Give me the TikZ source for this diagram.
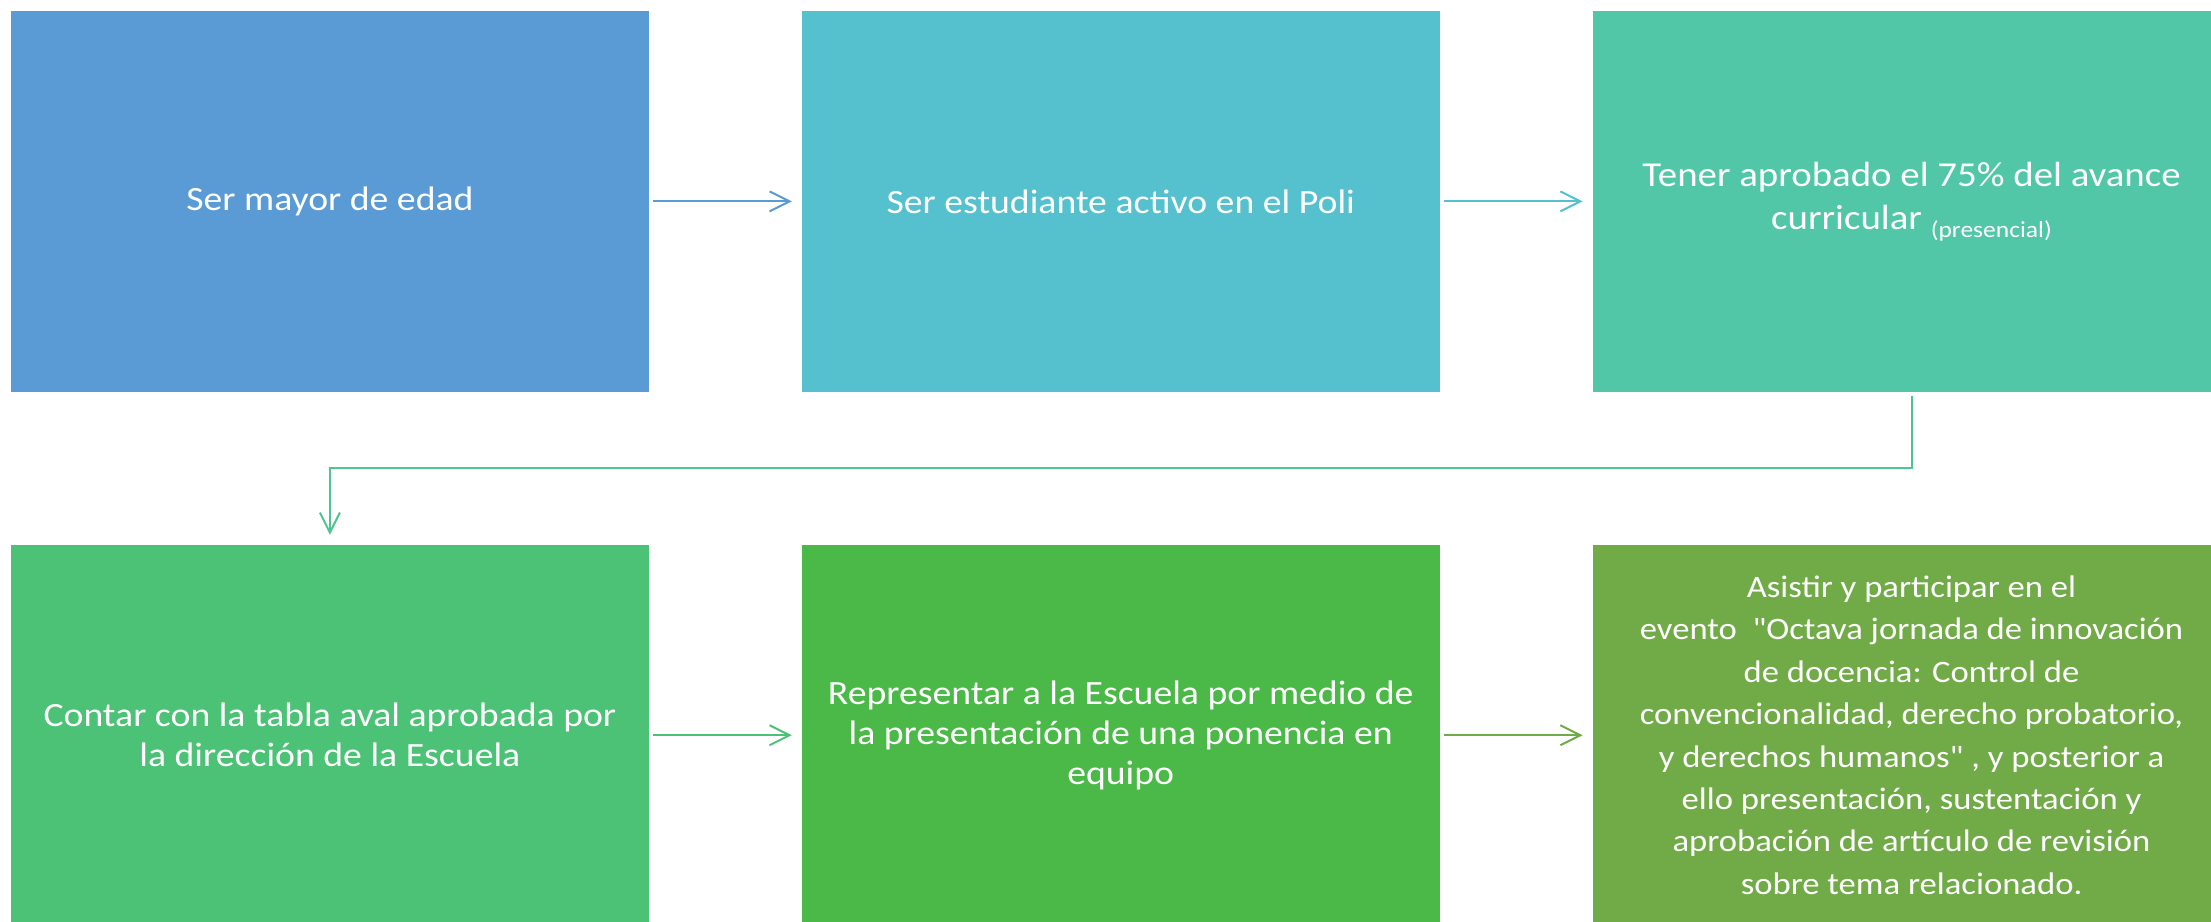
\documentclass[tikz,border=0pt]{standalone}
\usepackage{fontspec}
\setmainfont{Carlito}[FakeStretch=1.11,Ligatures=TeXOff]
\usetikzlibrary{arrows.meta,positioning}

\definecolor{mayorC}{HTML}{5B9BD5}
\definecolor{activoC}{HTML}{55C1CE}
\definecolor{avanceC}{HTML}{51C7A8}
\definecolor{tablaC}{HTML}{4BC275}
\definecolor{ponenciaC}{HTML}{4BB947}
\definecolor{eventoC}{HTML}{70AB47}
\definecolor{bajadaC}{HTML}{4EC48F}

\begin{document}
\begin{tikzpicture}[node distance= 75.5pt]
      \clip (0,0) rectangle (1105.5pt,-460.5pt);
      \begin{scope}[every node/.style={rectangle,draw=white,line width=0.4pt,
          text=white,align=center,inner sep=0pt,
          minimum width=319.5pt,minimum height=191pt,
          font=\fontsize{17}{20}\selectfont}]
        \node (mayor)[fill=mayorC] [anchor=north west] at (5pt,-5pt) {Ser mayor de edad};
        \node (activo)[fill=activoC] [right= of mayor] {Ser estudiante activo en el Poli};
        \node (avance)[fill=avanceC] [right= of activo]
          [font=\fontsize{17.5}{21.5}\selectfont] {Tener aprobado el 75\% del avance\\
          curricular \raisebox{-4pt}{\fontsize{11.5}{13}\selectfont(presencial)}};
        \node (tabla)[fill=tablaC] [below= of mayor] {Contar con la tabla aval aprobada por\\
          la dirección de la Escuela};
        \node (ponencia)[fill=ponenciaC] [right= of tabla] {Representar a la Escuela por medio de\\
          la presentación de una ponencia en\\equipo};
        \node (evento)[fill=eventoC] [right= of ponencia]
          [font=\fontsize{15.6}{21.2}\selectfont] {Asistir y participar en el\\
          evento\ \ "Octava jornada de innovación\\
          de docencia: Control de\\
          convencionalidad, derecho probatorio,\\
          y derechos humanos" , y posterior a\\
          ello presentación, sustentación y\\
          aprobación de artículo de revisión\\
          sobre tema relacionado.};
      \end{scope}
      \begin{scope}
        [every edge/.style={draw, line width=1pt,
          -{Straight Barb[length=10pt,width=10pt]},
          shorten <=1.5pt, shorten >=4.5pt}]
        \path (mayor) edge[mayorC] (activo);
        \path (activo) edge[activoC] (avance);
        \path (tabla) edge[tablaC] (ponencia);
        \path (ponencia) edge[eventoC] (evento);
      \end{scope}
      \draw[bajadaC, line width=1pt, -{Straight Barb[length=10pt,width=10pt]},
        shorten <=1.5pt, shorten >=4.5pt]
        (avance.south) -- ++(0,-37.75pt) -| (tabla.north);
    \end{tikzpicture}
\end{document}
